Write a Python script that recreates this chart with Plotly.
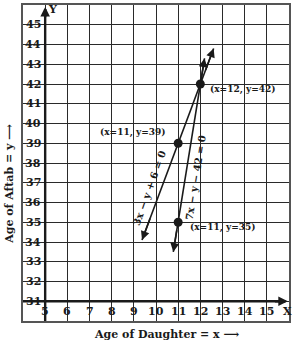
import plotly.graph_objects as go

# ---- data ----
x_ticks = [5, 6, 7, 8, 9, 10, 11, 12, 13, 14, 15]
y_ticks = [31, 32, 33, 34, 35, 36, 37, 38, 39, 40, 41, 42, 43, 44, 45]

# line 3x - y + 6 = 0 (ends)
line1_x = [9.37, 12.6]
line1_y = [34.1, 43.8]
line1_label = "3x − y + 6 = 0"

# line 7x - y - 42 = 0
line2_x = [10.78, 12.19]
line2_y = [33.5, 43.3]
line2_label = "7x − y − 42 = 0"

pts_x = [11, 12, 11]
pts_y = [39, 42, 35]
pts_text = ["(x=11, y=39)", "(x=12, y=42)", "(x=11, y=35)"]

x_title = "Age of Daughter = x ⟶"
y_title = "Age of Aftab = y ⟶"

FONT = "DejaVu Serif"
INK = "#1a1a1a"

fig = go.Figure()

fig.add_trace(go.Scatter(x=line1_x, y=line1_y, mode="lines",
                         line=dict(color=INK, width=1.6), hoverinfo="skip"))
fig.add_trace(go.Scatter(x=line2_x, y=line2_y, mode="lines",
                         line=dict(color=INK, width=1.6), hoverinfo="skip"))
fig.add_trace(go.Scatter(x=pts_x, y=pts_y, mode="markers",
                         marker=dict(color=INK, size=9), hoverinfo="skip"))

ann = []
# arrowheads on both ends of the two lines
for lx, ly in [(line1_x, line1_y), (line2_x, line2_y)]:
    for i, j in [(0, 1), (1, 0)]:
        tx = lx[i] + (lx[j] - lx[i]) * 0.12
        ty = ly[i] + (ly[j] - ly[i]) * 0.12
        ann.append(dict(x=lx[i], y=ly[i], ax=tx, ay=ty, xref="x", yref="y",
                        axref="x", ayref="y", showarrow=True, arrowhead=2,
                        arrowsize=1.1, arrowwidth=1.6, arrowcolor=INK, text=""))

# axes arrows
ann.append(dict(x=15.95, y=31, ax=15.3, ay=31, xref="x", yref="y", axref="x", ayref="y",
                showarrow=True, arrowhead=2, arrowsize=0.8, arrowwidth=2.4,
                arrowcolor=INK, text=""))
ann.append(dict(x=5, y=45.9, ax=5, ay=45.3, xref="x", yref="y", axref="x", ayref="y",
                showarrow=True, arrowhead=2, arrowsize=0.8, arrowwidth=2.4,
                arrowcolor=INK, text=""))

tick_font = dict(family=FONT, size=11, color=INK)
for v in y_ticks:
    ann.append(dict(x=4.47, y=v, xref="x", yref="y", text=f"<b>{v}</b>",
                    showarrow=False, font=tick_font))
for v in x_ticks:
    ann.append(dict(x=v, y=30.5, xref="x", yref="y", text=f"<b>{v}</b>",
                    showarrow=False, font=tick_font))
ann.append(dict(x=15.95, y=30.5, xref="x", yref="y", text="<b>X</b>",
                showarrow=False, font=tick_font))
ann.append(dict(x=5.33, y=45.75, xref="x", yref="y", text="<b>Y</b>",
                showarrow=False, font=tick_font))

lab_font = dict(family=FONT, size=9, color=INK)
ann.append(dict(x=10.54, y=39.52, xref="x", yref="y", text=f"<b>{pts_text[0]}</b>",
                xanchor="right", showarrow=False, font=lab_font))
ann.append(dict(x=12.35, y=41.73, xref="x", yref="y", text=f"<b>{pts_text[1]}</b>",
                xanchor="left", showarrow=False, font=lab_font))
ann.append(dict(x=11.44, y=34.74, xref="x", yref="y", text=f"<b>{pts_text[2]}</b>",
                xanchor="left", showarrow=False, font=lab_font))

# line labels
eq_font = dict(family=FONT, size=10, color=INK)
ann.append(dict(x=9.72, y=36.75, xref="x", yref="y", text=f"<b>{line1_label}</b>",
                textangle=-70, showarrow=False, font=eq_font))
ann.append(dict(x=11.8, y=37.26, xref="x", yref="y", text=f"<b>{line2_label}</b>",
                textangle=-81, showarrow=False, font=eq_font))

# axis titles
title_font = dict(family=FONT, size=11, color=INK)
ann.append(dict(x=0.538, y=-0.044, xref="paper", yref="paper", text=f"<b>{x_title}</b>",
                xanchor="center", yanchor="middle", showarrow=False, font=title_font))
ann.append(dict(x=-0.049, y=0.434, xref="paper", yref="paper", text=f"<b>{y_title}</b>",
                xanchor="center", yanchor="middle",
                textangle=-90, showarrow=False, font=title_font))

shapes = [
    dict(type="line", x0=4, x1=15.8, y0=31, y1=31, xref="x", yref="y",
         line=dict(color=INK, width=2.4)),
    dict(type="line", x0=5, x1=5, y0=30, y1=45.8, xref="x", yref="y",
         line=dict(color=INK, width=2.4)),
]

axis_common = dict(showgrid=True, gridcolor="#2a2a2a", gridwidth=1.3, dtick=1,
                   showticklabels=False, ticks="", zeroline=False,
                   showline=True, mirror=True, linecolor="#555555", linewidth=1.5,
                   fixedrange=True)

fig.update_layout(
    width=303, height=346,
    margin=dict(l=23, r=14, t=3, b=25),
    paper_bgcolor="white", plot_bgcolor="white",
    showlegend=False,
    xaxis=dict(range=[4, 16], tick0=4, **axis_common),
    yaxis=dict(range=[30, 46], tick0=30, **axis_common),
    annotations=ann, shapes=shapes,
)

fig.write_html("out.html")
